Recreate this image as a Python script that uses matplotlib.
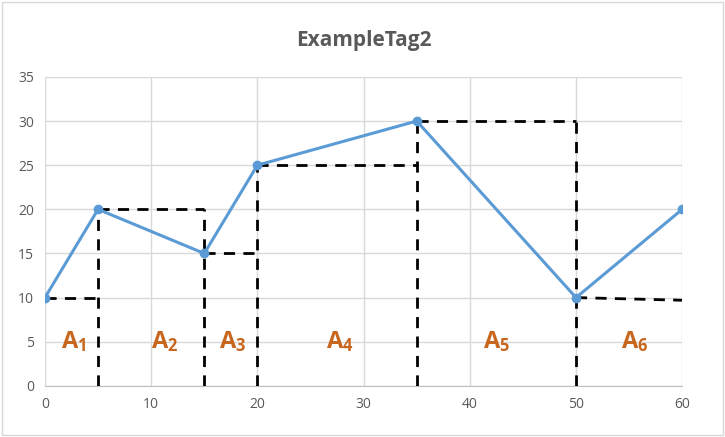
import matplotlib.pyplot as plt
from matplotlib.patches import Rectangle

# curve points
xs = [0, 5, 15, 20, 35, 50, 60]
ys = [10, 20, 15, 25, 30, 10, 20]

# left-endpoint rectangles (height taken from left point)
rect_x0 = [0, 5, 15, 20, 35, 50]
rect_x1 = [5, 15, 20, 35, 50, 60]
rect_h = [10, 20, 15, 25, 30, 10]
rect_h_end = [10, 20, 15, 25, 30, 9.7]
side_h = [20, 20, 25, 30, 30]

labels = ['A$_1$', 'A$_2$', 'A$_3$', 'A$_4$', 'A$_5$', 'A$_6$']
label_x = [2.7, 11.3, 17.7, 27.8, 42.5, 55.5]
label_y = 5

plt.rcParams['font.family'] = ['Open Sans', 'DejaVu Sans']
plt.rcParams['mathtext.fontset'] = 'custom'
plt.rcParams['mathtext.rm'] = 'Open Sans:bold'
plt.rcParams['mathtext.default'] = 'rm'
fig = plt.figure(figsize=(7.25, 4.37), dpi=100)
ax = fig.add_axes([0.062, 0.117, 0.879, 0.707])

grey = '#595959'
dash = dict(color='black', lw=2, dashes=(4, 3))
for x0, x1, h, he in zip(rect_x0, rect_x1, rect_h, rect_h_end):
    ax.plot([x0, x1], [h, he], **dash, zorder=3)
# vertical sides at right edges, up to the taller neighbour
for x1, h in zip(rect_x1[:-1], side_h):
    ax.plot([x1, x1], [0, h], **dash, zorder=3)

ax.plot(xs, ys, color='#5B9BD5', lw=2.2, marker='o', ms=6, zorder=4)

for lab, lx in zip(labels, label_x):
    ax.text(lx, label_y, lab, color='#C8661E', fontsize=17, fontweight='bold',
            ha='center', va='center', zorder=5)

ax.set_xlim(0, 60)
ax.set_ylim(0, 35)
ax.set_xticks(range(0, 61, 10))
ax.set_yticks(range(0, 36, 5))
ax.grid(True, color='#D9D9D9', lw=1)
ax.set_axisbelow(True)
for s in ['top', 'right', 'left']:
    ax.spines[s].set_visible(False)
ax.spines['bottom'].set_color('#BFBFBF')
ax.tick_params(length=0, colors=grey, labelsize=10, pad=8)
ax.set_title('ExampleTag2', color=grey, fontsize=15, fontweight='bold', pad=22)

fig.patches.append(Rectangle((0.003, 0.005), 0.994, 0.99, transform=fig.transFigure,
                             fill=False, ec='#D9D9D9', lw=1))
fig.savefig('out.png', dpi=100)
